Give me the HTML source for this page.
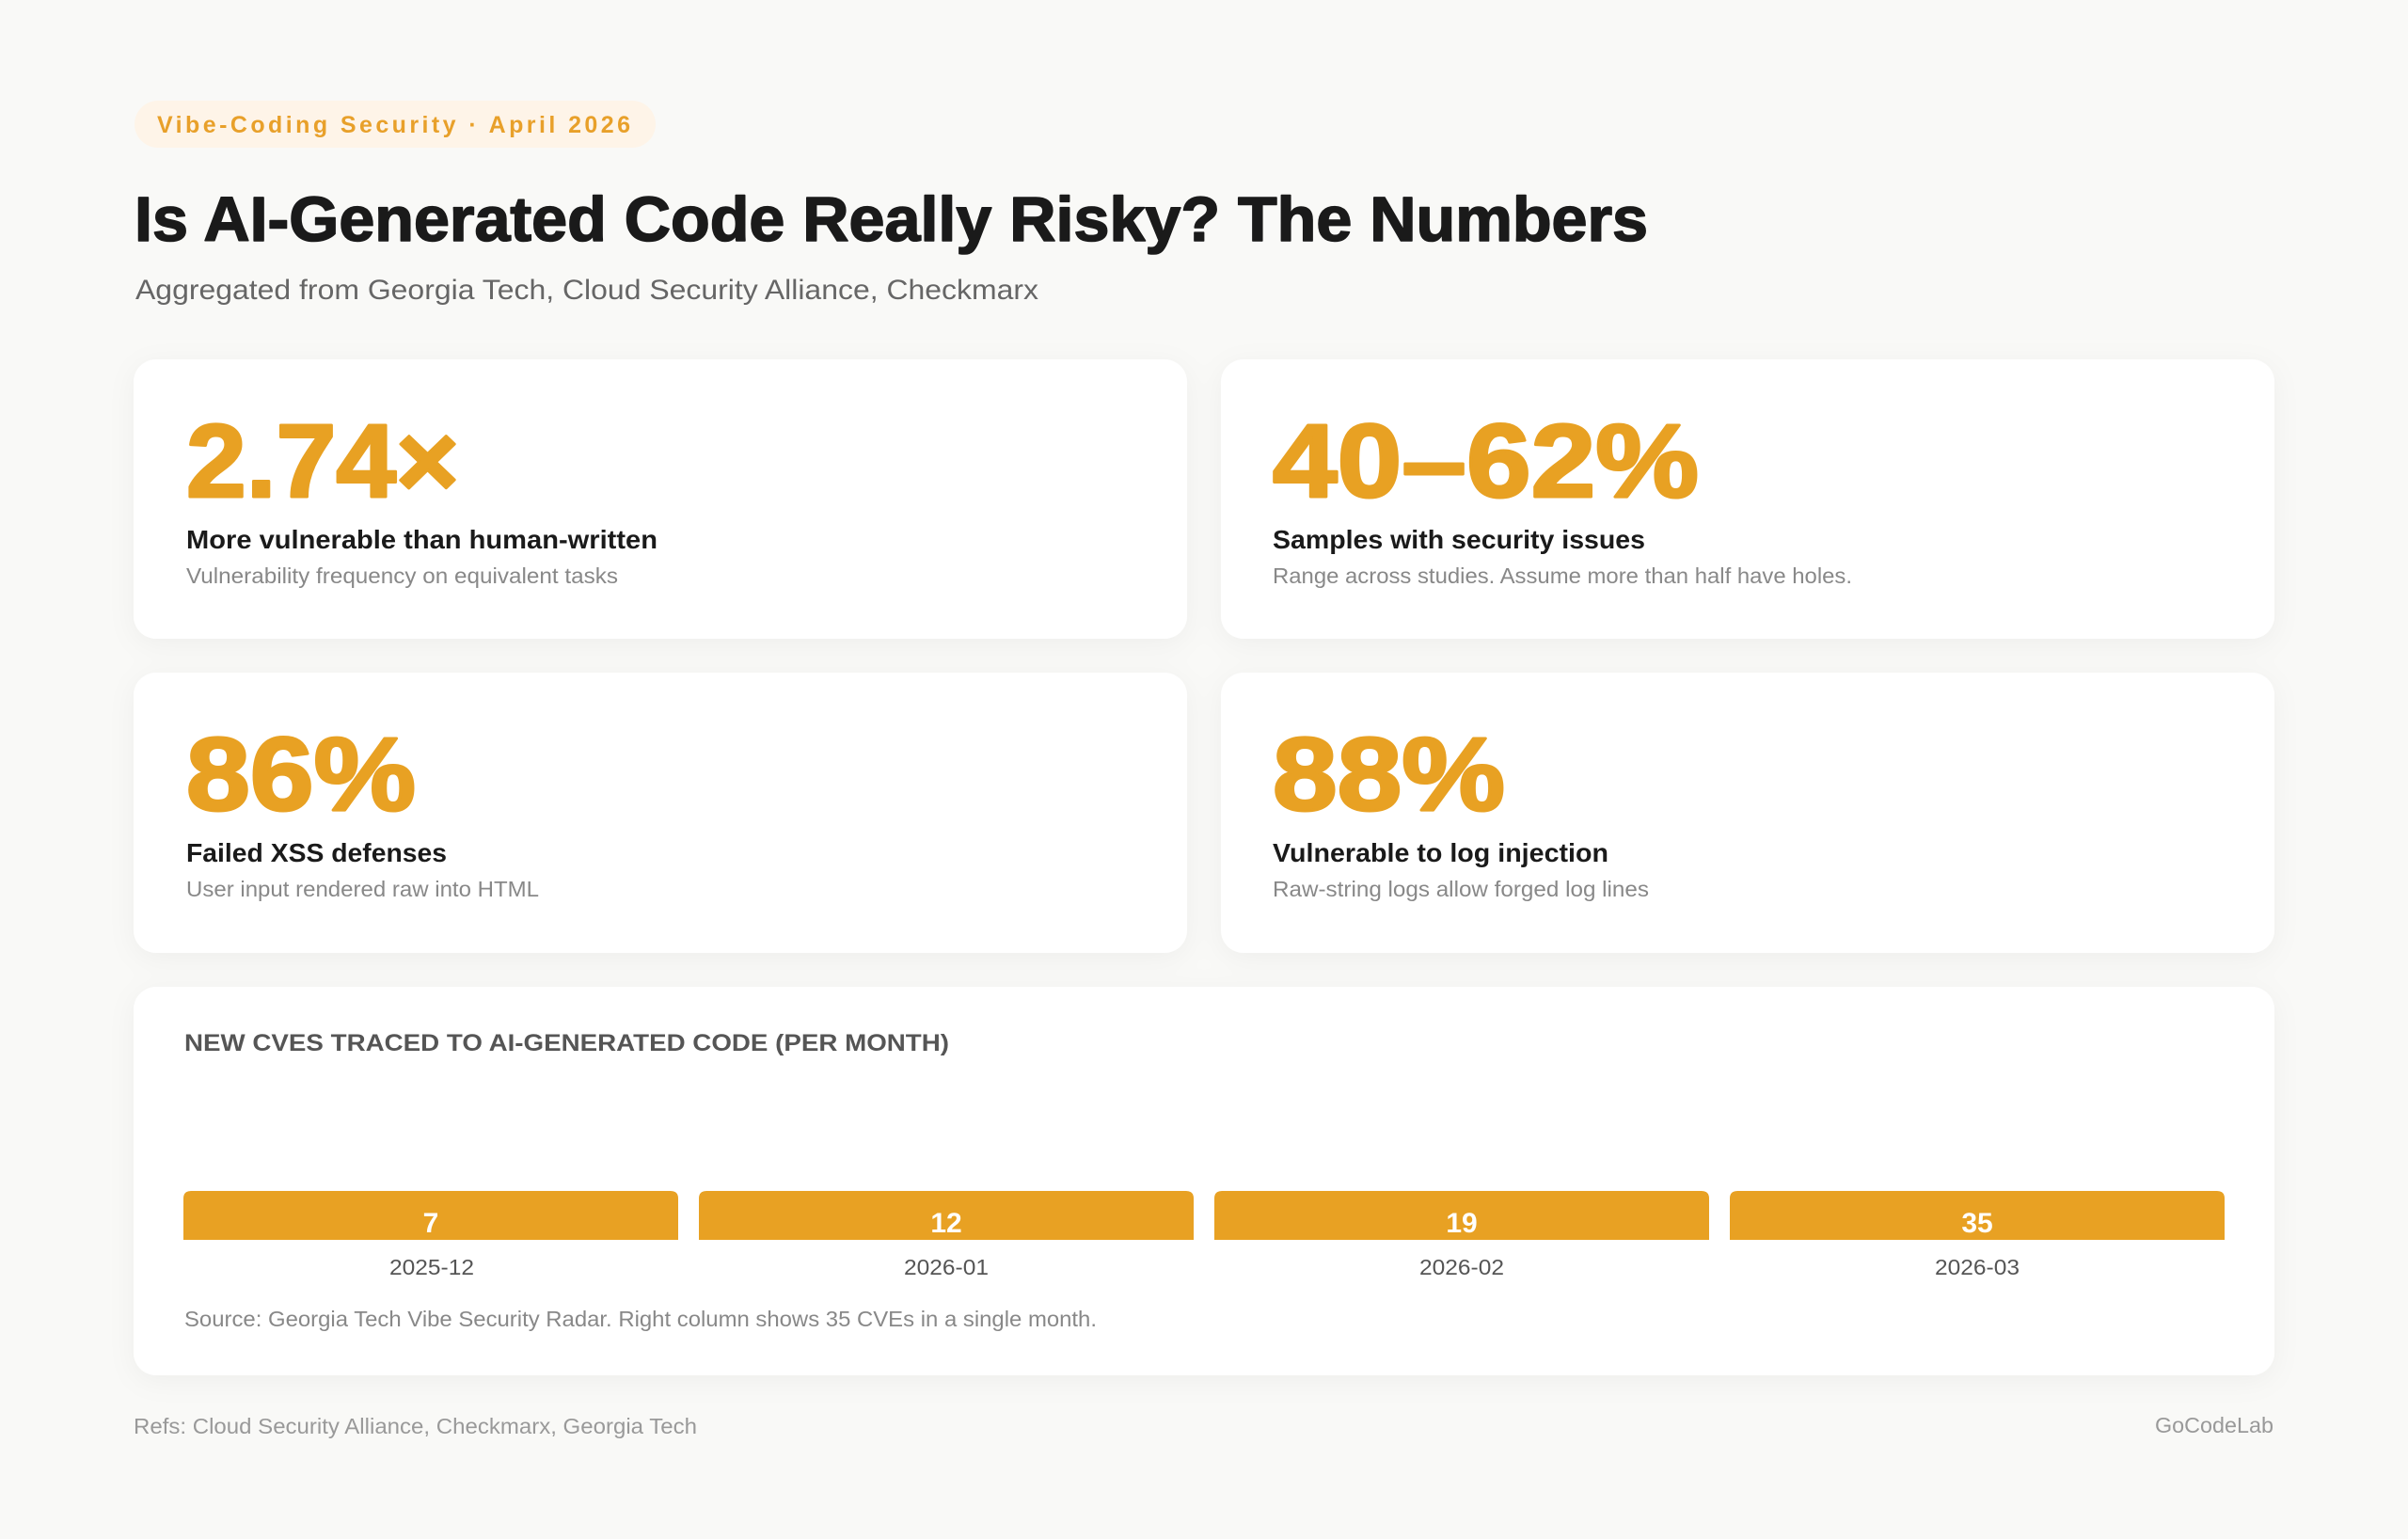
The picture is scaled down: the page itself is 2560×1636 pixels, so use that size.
<!DOCTYPE html>
<html>
<head>
<meta charset="utf-8">
<style>
  html, body { margin:0; padding:0; background:#F9F9F7; }
  body { width:2560px; height:1636px; overflow:hidden; }
  svg { display:block; }
  text { font-family: "Liberation Sans", "DejaVu Sans", sans-serif; }
</style>
</head>
<body>
<svg width="2560" height="1636" viewBox="0 0 2560 1636" xmlns="http://www.w3.org/2000/svg">
  <defs>
    <filter id="sh" x="-5%" y="-10%" width="110%" height="130%">
      <feDropShadow dx="0" dy="6" stdDeviation="14" flood-color="#000" flood-opacity="0.045"/>
    </filter>
  </defs>
  <rect x="0" y="0" width="2560" height="1636" fill="#F9F9F7"/>

  <!-- pill -->
  <rect x="143" y="107" width="554" height="50" rx="25" fill="#FEF4E8"/>
  <text x="167" y="141" font-size="25" font-weight="700" fill="#E8A02A" textLength="503" lengthAdjust="spacing">Vibe-Coding Security · April 2026</text>

  <!-- title -->
  <text x="143" y="256" font-size="67" font-weight="700" fill="#1A1A1A" stroke="#1A1A1A" stroke-width="1.6" stroke-linejoin="round" textLength="1609" lengthAdjust="spacingAndGlyphs">Is AI-Generated Code Really Risky? The Numbers</text>
  <text x="144" y="318" font-size="30" fill="#666666" textLength="960" lengthAdjust="spacingAndGlyphs">Aggregated from Georgia Tech, Cloud Security Alliance, Checkmarx</text>

  <!-- cards -->
  <g filter="url(#sh)">
    <rect x="142" y="382" width="1120" height="297" rx="24" fill="#FFFFFF"/>
    <rect x="1298" y="382" width="1120" height="297" rx="24" fill="#FFFFFF"/>
    <rect x="142" y="715" width="1120" height="298" rx="24" fill="#FFFFFF"/>
    <rect x="1298" y="715" width="1120" height="298" rx="24" fill="#FFFFFF"/>
    <rect x="142" y="1049" width="2276" height="413" rx="24" fill="#FFFFFF"/>
  </g>

  <!-- card 1 -->
  <text x="198" y="528" font-size="110" font-weight="700" fill="#E8A123" stroke="#E8A123" stroke-width="3" stroke-linejoin="round" textLength="290" lengthAdjust="spacingAndGlyphs">2.74×</text>
  <text x="198" y="583" font-size="28" font-weight="700" fill="#1A1A1A" textLength="501" lengthAdjust="spacingAndGlyphs">More vulnerable than human-written</text>
  <text x="198" y="620" font-size="23" fill="#888888" textLength="459" lengthAdjust="spacingAndGlyphs">Vulnerability frequency on equivalent tasks</text>

  <!-- card 2 -->
  <text x="1353" y="528" font-size="110" font-weight="700" fill="#E8A123" stroke="#E8A123" stroke-width="3" stroke-linejoin="round" textLength="453" lengthAdjust="spacingAndGlyphs">40–62%</text>
  <text x="1353" y="583" font-size="28" font-weight="700" fill="#1A1A1A" textLength="396" lengthAdjust="spacingAndGlyphs">Samples with security issues</text>
  <text x="1353" y="620" font-size="23" fill="#888888" textLength="616" lengthAdjust="spacingAndGlyphs">Range across studies. Assume more than half have holes.</text>

  <!-- card 3 -->
  <text x="198" y="861" font-size="110" font-weight="700" fill="#E8A123" stroke="#E8A123" stroke-width="3" stroke-linejoin="round" textLength="244" lengthAdjust="spacingAndGlyphs">86%</text>
  <text x="198" y="916" font-size="28" font-weight="700" fill="#1A1A1A" textLength="277" lengthAdjust="spacingAndGlyphs">Failed XSS defenses</text>
  <text x="198" y="953" font-size="23" fill="#888888" textLength="375" lengthAdjust="spacingAndGlyphs">User input rendered raw into HTML</text>

  <!-- card 4 -->
  <text x="1353" y="861" font-size="110" font-weight="700" fill="#E8A123" stroke="#E8A123" stroke-width="3" stroke-linejoin="round" textLength="247" lengthAdjust="spacingAndGlyphs">88%</text>
  <text x="1353" y="916" font-size="28" font-weight="700" fill="#1A1A1A" textLength="357" lengthAdjust="spacingAndGlyphs">Vulnerable to log injection</text>
  <text x="1353" y="953" font-size="23" fill="#888888" textLength="400" lengthAdjust="spacingAndGlyphs">Raw-string logs allow forged log lines</text>

  <!-- chart -->
  <text x="196" y="1117" font-size="25" font-weight="700" fill="#555555" textLength="813" lengthAdjust="spacingAndGlyphs">NEW CVES TRACED TO AI-GENERATED CODE (PER MONTH)</text>

  <path d="M195,1318 V1274 Q195,1266 203,1266 H713 Q721,1266 721,1274 V1318 Z" fill="#E8A123"/>
  <path d="M743,1318 V1274 Q743,1266 751,1266 H1261 Q1269,1266 1269,1274 V1318 Z" fill="#E8A123"/>
  <path d="M1291,1318 V1274 Q1291,1266 1299,1266 H1809 Q1817,1266 1817,1274 V1318 Z" fill="#E8A123"/>
  <path d="M1839,1318 V1274 Q1839,1266 1847,1266 H2357 Q2365,1266 2365,1274 V1318 Z" fill="#E8A123"/>

  <text x="458" y="1310" font-size="30" font-weight="700" fill="#FFFFFF" text-anchor="middle">7</text>
  <text x="1006" y="1310" font-size="30" font-weight="700" fill="#FFFFFF" text-anchor="middle">12</text>
  <text x="1554" y="1310" font-size="30" font-weight="700" fill="#FFFFFF" text-anchor="middle">19</text>
  <text x="2102" y="1310" font-size="30" font-weight="700" fill="#FFFFFF" text-anchor="middle">35</text>

  <text x="459" y="1355" font-size="23" fill="#555555" text-anchor="middle" textLength="90" lengthAdjust="spacingAndGlyphs">2025-12</text>
  <text x="1006" y="1355" font-size="23" fill="#555555" text-anchor="middle" textLength="90" lengthAdjust="spacingAndGlyphs">2026-01</text>
  <text x="1554" y="1355" font-size="23" fill="#555555" text-anchor="middle" textLength="90" lengthAdjust="spacingAndGlyphs">2026-02</text>
  <text x="2102" y="1355" font-size="23" fill="#555555" text-anchor="middle" textLength="90" lengthAdjust="spacingAndGlyphs">2026-03</text>

  <text x="196" y="1410" font-size="23" fill="#888888" textLength="970" lengthAdjust="spacingAndGlyphs">Source: Georgia Tech Vibe Security Radar. Right column shows 35 CVEs in a single month.</text>

  <!-- footer -->
  <text x="142" y="1524" font-size="23" fill="#999999" textLength="599" lengthAdjust="spacingAndGlyphs">Refs: Cloud Security Alliance, Checkmarx, Georgia Tech</text>
  <text x="2291" y="1523" font-size="23" fill="#999999" textLength="126" lengthAdjust="spacingAndGlyphs">GoCodeLab</text>
</svg>
</body>
</html>
